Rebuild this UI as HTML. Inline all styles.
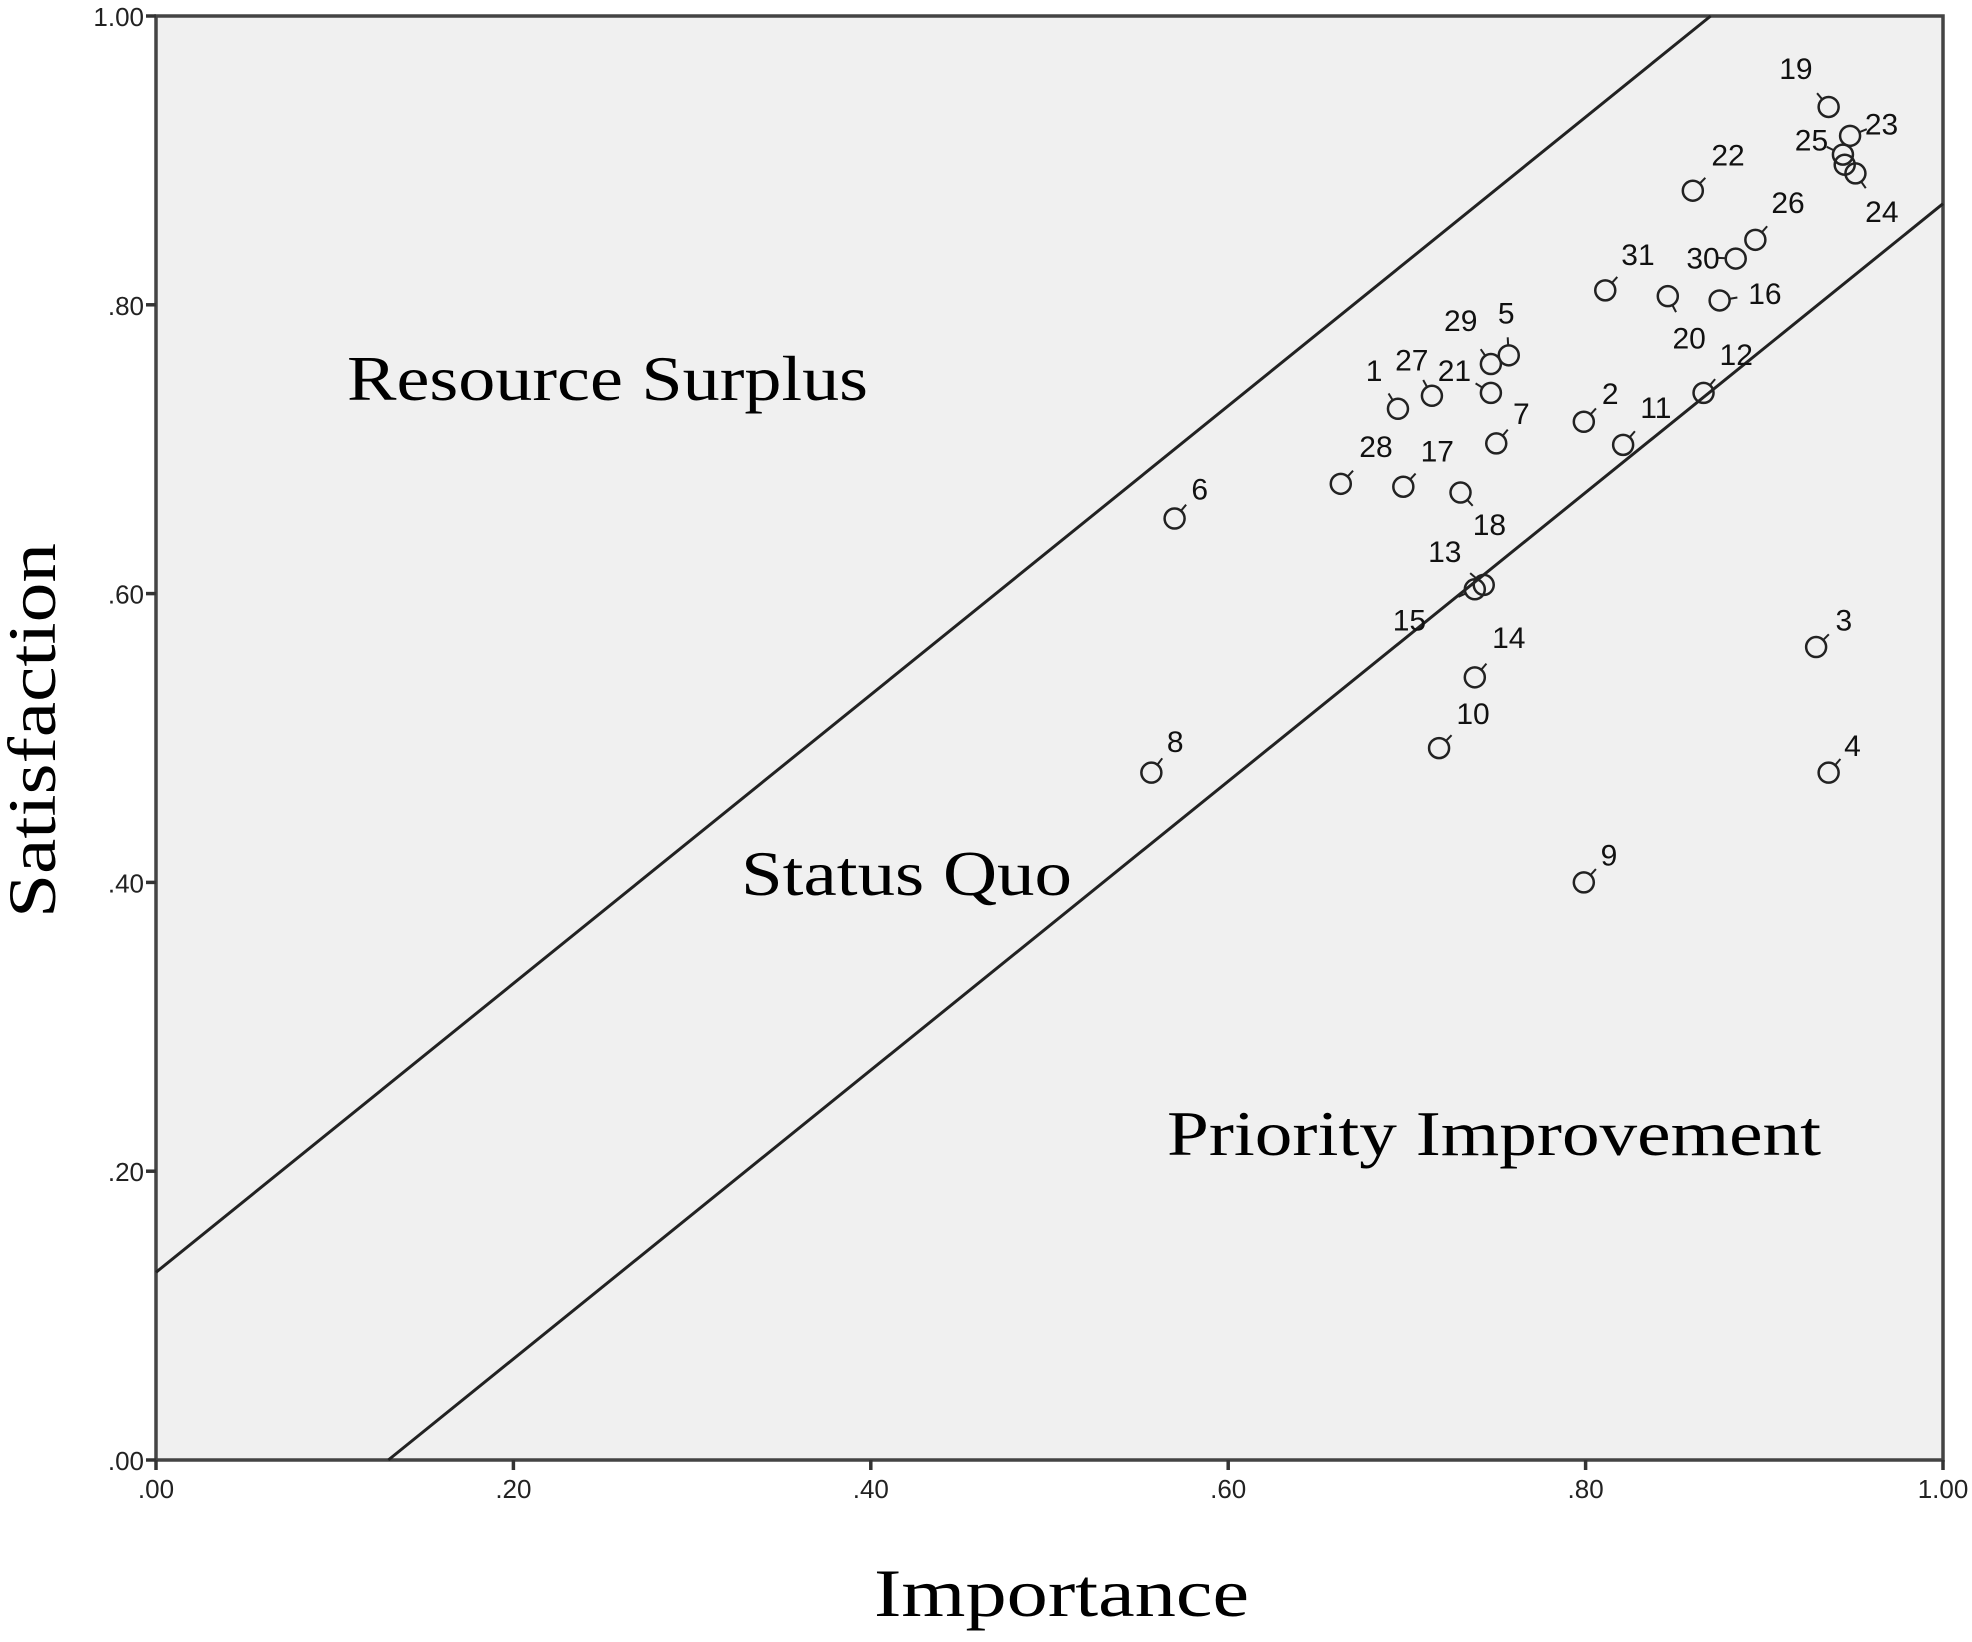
<!DOCTYPE html>
<html><head><meta charset="utf-8">
<style>
html,body{margin:0;padding:0;background:#fff;}
svg{display:block;}
.tick{font-family:"Liberation Sans",sans-serif;font-size:26px;fill:#222;}
.pl{font-family:"Liberation Sans",sans-serif;font-size:30px;fill:#111;}
.region{font-family:"Liberation Serif",serif;font-size:64px;fill:#000;}
.title{font-family:"Liberation Serif",serif;font-size:68px;fill:#000;}
</style></head>
<body>
<svg id="chart" width="1972" height="1642" viewBox="0 0 1972 1642">
<rect x="156" y="16" width="1787" height="1444" fill="#f0f0f0" stroke="#444" stroke-width="3.5"/>
<g id="lines"></g>
<g id="ticks"></g>
<g id="points"></g>
<text class="region" x="347" y="400" textLength="521" lengthAdjust="spacingAndGlyphs">Resource Surplus</text>
<text class="region" x="741" y="895" textLength="331" lengthAdjust="spacingAndGlyphs">Status Quo</text>
<text class="region" x="1167" y="1155" textLength="654" lengthAdjust="spacingAndGlyphs">Priority Improvement</text>
<text class="title" x="874" y="1616" textLength="375" lengthAdjust="spacingAndGlyphs">Importance</text>
<text class="title" x="-918" y="0" textLength="375" lengthAdjust="spacingAndGlyphs" transform="translate(55,0) rotate(-90)">Satisfaction</text>
</svg>
<script>
const ids=[19,23,25,0,24,22,26,30,31,20,16,12,2,11,29,5,21,7,27,1,28,17,18,13,15,14,10,6,8,3,4,9];
const importance=[.936,.948,.944,.945,.951,.860,.895,.884,.811,.846,.875,.866,.799,.821,.747,.757,.747,.750,.714,.695,.663,.698,.730,.743,.738,.738,.718,.570,.557,.929,.936,.799];
const satisfaction=[.937,.917,.904,.897,.891,.879,.845,.832,.810,.806,.803,.739,.719,.703,.759,.765,.739,.704,.737,.728,.676,.674,.670,.606,.603,.542,.493,.652,.476,.563,.476,.400];
const labelDx=[-26,25,-25,0,21,28,26,-26,26,17,36,26,21,26,-24,-2,-29,20,-16,-19,28,27,23,-31,-52,27,27,20,19,22,19,20];
const labelDy=[-31,-10,-12,0,30,-29,-30,-1,-29,33,-6,-31,-23,-30,-35,-34,-18,-24,-29,-31,-30,-29,25,-27,24,-32,-28,-24,-25,-22,-22,-22];
const tickVals=[0,.2,.4,.6,.8,1];
const tickLabels=[".00",".20",".40",".60",".80","1.00"];
const bandOffset=0.13;
const NS="http://www.w3.org/2000/svg";
const L=156,R=1943,T=16,B=1460,S=1.2577;
const X=v=>L+v*(R-L), Y=v=>B-v*(B-T);
function mk(tag,attrs,parent){const e=document.createElementNS(NS,tag);for(const k in attrs)e.setAttribute(k,attrs[k]);parent.appendChild(e);return e;}
const lg=document.getElementById('lines');
let u=mk('line',{x1:X(0),y1:Y(bandOffset),x2:X(1-bandOffset),y2:Y(1),stroke:'#222','stroke-width':3},lg);


let lo=mk('line',{x1:X(bandOffset),y1:Y(0),x2:X(1),y2:Y(1-bandOffset),stroke:'#222','stroke-width':3},lg);


const tg=document.getElementById('ticks');
tickVals.forEach((v,i)=>{
 let t=mk('line',{x1:X(v),y1:B,x2:X(v),y2:B+10,stroke:'#333','stroke-width':3.5},tg);
 
 
 let tx=mk('text',{x:X(v),y:B+38,'text-anchor':'middle',class:'tick'},tg);tx.textContent=tickLabels[i];
 
 
 let t2=mk('line',{x1:L-10,y1:Y(v),x2:L,y2:Y(v),stroke:'#333','stroke-width':3.5},tg);
 
 
 let ty=mk('text',{x:L-12,y:Y(v)+10,'text-anchor':'end',class:'tick'},tg);ty.textContent=tickLabels[i];
 
 
});
const pg=document.getElementById('points');
ids.forEach((id,i)=>{
 const cx=X(importance[i]),cy=Y(satisfaction[i]);
 const c=mk('circle',{cx:cx,cy:cy,r:10,fill:'none',stroke:'#222','stroke-width':2.5},pg);
 
 
 if(!id)return;
 const dx=labelDx[i]*S,dy=labelDy[i]*S;
 const len=Math.hypot(dx,dy),ux=dx/len,uy=dy/len;
 const ld=mk('line',{x1:cx+ux*9,y1:cy+uy*9,x2:cx+ux*18,y2:cy+uy*18,stroke:'#222','stroke-width':2},pg);
 
 
 const t=mk('text',{x:cx+dx,y:cy+dy+11,'text-anchor':'middle',class:'pl'},pg);
 t.textContent=id;
 
 
});
</script>
</body></html>
